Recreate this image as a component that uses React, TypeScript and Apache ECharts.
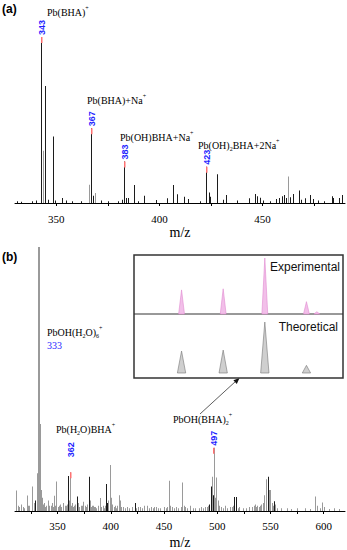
import React, { useEffect, useRef } from "react";
import * as echarts from "echarts";

// ---------- Panel (a) ----------
const peaksA: [number, number][] = [
  [331, 1], [333, 0.8], [338.5, 1], [340.6, 1.5], [343, 100], [344, 31.5], [345, 70.5], [346, 2],
  [348.5, 40], [349.5, 1.5], [352.8, 3], [355, 1.5], [358, 1], [362, 1], [366, 11], [367, 45],
  [368, 4.4], [369, 6], [372, 1.5], [375.5, 1], [380, 1], [382, 2], [383, 25], [384, 3], [385, 3],
  [388, 10.8], [390, 1], [393, 4.4], [398.5, 1.8], [404, 2.8], [407, 10.8], [409, 5.2], [412, 3.8],
  [414, 2.4], [420, 1], [423, 21.9], [424.2, 6.4], [425, 3.8], [428.2, 17.3], [431, 2], [432.7, 4.8],
  [438, 1.5], [443.7, 2.8], [446.6, 5.4], [447.6, 4], [449, 3.2], [450.5, 1.5], [454, 1], [457, 2.4],
  [458.3, 3], [459.5, 4], [460.5, 4.8], [461.6, 3], [462.7, 15.9], [463.5, 3.5], [464.8, 5.4],
  [467.8, 7.6], [469.1, 2], [470.7, 2.8], [473.1, 4.8], [474.7, 2.4], [477, 1.5], [480, 1],
  [483.7, 4], [484.2, 3], [487.2, 3], [489, 4.8],
];
const grayA = [344, 366, 369, 462.7];
const labeledA = [343, 367, 383, 423];
const labelGapA = [2, 2, 2, 2];
const ticksA = [350, 375, 400, 425, 450, 475];
const tickLabelsA = [350, 400, 450];

// ---------- Panel (b) ----------
const peaksB: [number, number][] = [
  [311, 7.8], [313, 2], [316, 2.5], [318, 1.5], [321.3, 5.9], [323, 2], [326.6, 9.3], [328, 3],
  [330.7, 14.3], [332, 30], [333, 100], [334, 33], [335, 8], [336, 5], [338, 3], [340, 2],
  [341.6, 4], [344, 2], [345.5, 3], [347.2, 5.8], [349.4, 11.2], [352, 2], [356, 3], [358, 2],
  [360.3, 13.3], [361, 4], [362, 14.7], [364, 3], [366, 2], [368.8, 5.5], [370, 3], [372, 2],
  [374.4, 3.5], [376, 2], [380, 13], [381, 4], [383, 2], [386, 1.5], [390, 4.9], [393, 2],
  [396.3, 10.2], [398, 4], [399.4, 17.4], [400.5, 5], [404, 2], [407.8, 6], [408.8, 4], [412, 1.5],
  [416, 1.5], [422.8, 3], [428, 1.5], [432, 2], [434, 2], [438, 1.5], [441, 1.5], [445, 1],
  [450, 1.5], [455, 11.5], [458, 1.5], [462, 1.5], [467.5, 10.8], [470, 1.5], [475, 2], [480, 1],
  [485, 1.5], [489, 1.5], [492, 2], [494.7, 9.3], [495.6, 13], [496.3, 6], [497, 24], [498, 5],
  [499.4, 12.7], [500.8, 4], [504, 1.5], [508, 2], [512, 1.5], [516.5, 5.3], [518, 5.3], [521, 1.5],
  [525, 1], [530, 1.5], [533, 1.5], [536, 2.5], [540, 1.5], [543, 3], [544.7, 6], [546.2, 12],
  [547.7, 13], [549, 8], [550, 8], [551.5, 3], [553.5, 3.7], [555, 2.5], [560, 1], [566, 1],
  [575, 1], [583, 1], [592.5, 5.5], [594, 2], [598.5, 3.2], [605, 0.8], [610, 1],
];
// small baseline peaks ("grass") of panel (b)
const minorPeaksB: [number, number][] = [
  [314, 1.5], [319, 1], [324, 2], [329, 4], [337, 2.5], [339, 1.5], [342.5, 2], [346, 1.5], [348, 2],
  [351, 1.5], [353, 2.5], [354, 1.5], [357, 2], [359, 2.5], [363, 2], [365, 1.5], [367, 2.5], [371, 1.5],
  [373, 2], [377, 1.5], [378, 2.5], [382, 1.5], [384, 2], [385, 1.5], [387, 1], [388, 2], [391, 1.5],
  [394, 1], [395, 2], [397, 3], [401.5, 2.5], [403, 1.5], [405, 1], [406, 2], [409.5, 2.5], [410, 1.5],
  [414, 1], [418, 1], [420, 1.5], [424, 1], [426, 1.5], [430, 1], [436, 1], [440, 1], [443, 1.5],
  [447, 1], [452, 1], [453, 1.5], [456, 2], [460, 1], [464, 1], [466, 1.5], [469, 2], [472, 1],
  [478, 1], [483, 1], [487, 1], [491, 1.5], [493, 2.5], [502, 2], [506, 1], [510, 1], [514, 1.5],
  [515, 2], [520, 1], [527, 1], [535, 2], [537, 1.5], [538, 2], [541, 2], [542, 2.5], [552.5, 2],
  [557, 1], [570, 0.8], [588, 0.8], [597, 1], [601, 1.5], [615, 0.8],
];
const darkB = [332, 360.3, 368.8, 380, 396.3, 422.8, 494.7, 496.3, 516.5, 518, 547.7, 553.5, 329, 397, 493];
const wideB = [333];
const labeledB = [362, 497];
const labelGapB = [15, 2];
const ticksB = [325, 350, 375, 400, 425, 450, 475, 500, 525, 550, 575, 600];
const tickLabelsB = [350, 400, 450, 500, 550, 600];

// ---------- Inset ----------
const insetTicks = [494.5, 495, 495.5, 496, 496.5, 497, 497.5, 498, 498.5];
const expMz = [495, 496, 497, 498, 498.25];
const expRel = [43, 45, 100, 22, 4];
const theoMz = [495, 496, 497, 498];
const theoRel = [43, 45, 100, 15];

const SERIF = "Liberation Serif";
const SANS = "Liberation Sans";
const BLUE = "#1e1eff";

const richStyles = {
  n: { fontSize: 10, fontFamily: SERIF, lineHeight: 14, color: "#111" },
  sup: { fontSize: 6, fontFamily: SERIF, lineHeight: 6, verticalAlign: "top", color: "#111" },
  sub: { fontSize: 6, fontFamily: SERIF, lineHeight: 6, verticalAlign: "bottom", color: "#111" },
};

function nameText(text: string, x: number, y: number) {
  return {
    type: "text",
    x,
    y,
    silent: true,
    style: { text, rich: richStyles, align: "left", verticalAlign: "middle", fontFamily: SERIF, fontSize: 10 },
  };
}

function spectrum(idx: number, peaks: [number, number][], darkFn: (m: number) => boolean, wide: number[], z: number) {
  return {
    type: "custom",
    xAxisIndex: idx,
    yAxisIndex: idx,
    silent: true,
    clip: false,
    z,
    encode: { x: 0, y: 1 },
    data: peaks.map(([m, v]) => [m, v, darkFn(m) ? 1 : 0, wide.includes(m) ? 2 : 1]),
    renderItem: (_p: any, api: any) => {
      const m = api.value(0);
      const v = api.value(1);
      const dark = api.value(2);
      const w = api.value(3);
      const top = api.coord([m, v]);
      const base = api.coord([m, 0]);
      return {
        type: "rect",
        shape: { x: Math.round(top[0] - w / 2), y: top[1], width: w, height: base[1] - top[1] },
        style: { fill: dark ? "#1c1c1c" : "#9a9a9a" },
      };
    },
  };
}

function markers(idx: number, peaks: [number, number][], labeled: number[], gaps: number[]) {
  return {
    type: "custom",
    xAxisIndex: idx,
    yAxisIndex: idx,
    silent: true,
    clip: false,
    z: 5,
    encode: { x: 0, y: 1 },
    data: labeled.map((m, i) => {
      const found = peaks.find((p) => p[0] === m);
      return [m, found ? found[1] : 0, gaps[i]];
    }),
    renderItem: (_p: any, api: any) => {
      const m = api.value(0);
      const v = api.value(1);
      const gap = api.value(2);
      const p = api.coord([m, v]);
      const px = Math.round(p[0] - 0.75);
      return {
        type: "group",
        children: [
          { type: "rect", shape: { x: px, y: p[1], width: 1.5, height: 6 }, style: { fill: "#ff7272" } },
          {
            type: "text",
            x: px + 0.75,
            y: p[1] - gap,
            rotation: Math.PI / 2,
            style: {
              text: String(m),
              fill: BLUE,
              fontSize: 9,
              fontWeight: "bold",
              fontFamily: SANS,
              align: "left",
              verticalAlign: "middle",
            },
          },
        ],
      };
    },
  };
}

function insetPeaks(idx: number, mz: number[], rel: number[], hw: number, fill: string, stroke: string) {
  return {
    type: "custom",
    xAxisIndex: idx,
    yAxisIndex: idx,
    silent: true,
    z: 4,
    encode: { x: 0, y: 1 },
    data: mz.map((m, i) => [m, rel[i]]),
    renderItem: (_p: any, api: any) => {
      const c = api.value(0);
      const h = api.value(1);
      const pts = [api.coord([c - hw, 0]), api.coord([c, h]), api.coord([c + hw, 0])];
      return { type: "polygon", shape: { points: pts }, style: { fill, stroke, lineWidth: 0.6 } };
    },
  };
}

const mainAxisBase = (gridIndex: number, min: number, max: number, ticks: number[], labels: number[], margin: number, nameGap: number) => ({
  type: "value",
  gridIndex,
  min,
  max,
  splitLine: { show: false },
  axisLine: { show: true, onZero: false, lineStyle: { color: "#000", width: 1 } },
  axisTick: { show: true, length: 3, customValues: ticks, lineStyle: { color: "#000", width: 1 } },
  axisLabel: { show: true, customValues: labels, color: "#000", fontFamily: SERIF, fontSize: 11, margin },
  name: "m/z",
  nameLocation: "middle",
  nameGap,
  nameTextStyle: { fontFamily: SERIF, fontSize: 14, color: "#000" },
});

const insetXAxis = (gridIndex: number) => ({
  type: "value",
  gridIndex,
  min: 494.17,
  max: 498.83,
  splitLine: { show: false },
  axisLine: { show: true, onZero: false, lineStyle: { color: "#555", width: 0.8 } },
  axisTick: { show: true, length: 2, customValues: insetTicks, lineStyle: { color: "#777", width: 0.6 } },
  axisLabel: { show: false },
});

const insetYAxis = (gridIndex: number) => ({
  type: "value",
  gridIndex,
  min: 0,
  max: 100,
  splitLine: { show: false },
  axisLine: { show: true, lineStyle: { color: "#999", width: 0.6 } },
  axisTick: { show: true, length: 2, customValues: [0, 20, 40, 60, 80, 100], lineStyle: { color: "#999", width: 0.5 } },
  axisLabel: { show: false },
});

export default function App() {
  const ref = useRef<HTMLDivElement>(null);
  useEffect(() => {
    if (!ref.current) return;
    const chart = echarts.init(ref.current, undefined, { renderer: "svg" });
    const darkA = (m: number) => !grayA.includes(m);
    const isDarkB = (m: number) => darkB.includes(m);
    chart.setOption({
      animation: false,
      backgroundColor: "#fff",
      grid: [
        { left: 15, right: 2, top: 37, bottom: 347 },
        { left: 15, right: 2, top: 247, bottom: 37 },
        { left: 147, right: 6, top: 258, bottom: 236 },
        { left: 147, right: 6, top: 322, bottom: 177 },
      ],
      xAxis: [
        mainAxisBase(0, 330, 490, ticksA, tickLabelsA, 10, 22),
        mainAxisBase(1, 310, 620, ticksB, tickLabelsB, 9, 24),
        insetXAxis(2),
        insetXAxis(3),
      ],
      yAxis: [
        { type: "value", gridIndex: 0, min: 0, max: 100, show: false },
        { type: "value", gridIndex: 1, min: 0, max: 100, show: false },
        insetYAxis(2),
        insetYAxis(3),
      ],
      graphic: [
        {
          type: "rect",
          z: 1,
          shape: { x: 134, y: 255, width: 209, height: 123 },
          style: { fill: "#fff", stroke: "#333", lineWidth: 1.5 },
        },
        { type: "line", z: 3, shape: { x1: 134, y1: 314, x2: 343, y2: 314 }, style: { stroke: "#333", lineWidth: 1 } },
        {
          type: "text",
          z: 6,
          x: 340,
          y: 267,
          style: { text: "Experimental", fontFamily: SANS, fontSize: 12, fill: "#111", align: "right", verticalAlign: "middle" },
        },
        {
          type: "text",
          z: 6,
          x: 338,
          y: 327,
          style: { text: "Theoretical", fontFamily: SANS, fontSize: 12, fill: "#111", align: "right", verticalAlign: "middle" },
        },
        { type: "line", shape: { x1: 200, y1: 414, x2: 236, y2: 381 }, style: { stroke: "#333", lineWidth: 0.8 } },
        {
          type: "polygon",
          shape: { points: [[239.5, 378], [236.8, 383.9], [233.4, 380.2]] },
          style: { fill: "#111" },
        },
        {
          type: "text",
          x: 2,
          y: 8.5,
          style: { text: "(a)", fontFamily: SANS, fontWeight: "bold", fontSize: 12, fill: "#000", align: "left", verticalAlign: "middle" },
        },
        {
          type: "text",
          x: 2,
          y: 257,
          style: { text: "(b)", fontFamily: SANS, fontWeight: "bold", fontSize: 12, fill: "#000", align: "left", verticalAlign: "middle" },
        },
        nameText("{n|Pb(BHA)}{sup|+}", 47, 12),
        nameText("{n|Pb(BHA)+Na}{sup|+}", 87, 100),
        nameText("{n|Pb(OH)BHA+Na}{sup|+}", 120, 137),
        nameText("{n|Pb(OH)}{sub|2}{n|BHA+2Na}{sup|+}", 198, 145),
        nameText("{n|PbOH(H}{sub|2}{n|O)}{sub|6}{sup|+}", 47, 332),
        nameText("{n|Pb(H}{sub|2}{n|O)BHA}{sup|+}", 56, 429),
        nameText("{n|PbOH(BHA)}{sub|2}{sup|+}", 173, 419),
        {
          type: "text",
          x: 47,
          y: 345,
          style: { text: "333", fontFamily: SERIF, fontSize: 10, fill: BLUE, align: "left", verticalAlign: "middle" },
        },
      ],
      series: [
        spectrum(0, peaksA, darkA, [], 2),
        markers(0, peaksA, labeledA, labelGapA),
        spectrum(1, minorPeaksB, isDarkB, [], 2),
        spectrum(1, peaksB, isDarkB, wideB, 3),
        markers(1, peaksB, labeledB, labelGapB),
        insetPeaks(2, expMz, expRel, 0.07, "#f2bfe9", "#e08ad0"),
        insetPeaks(3, theoMz, theoRel, 0.1, "#cfcfcf", "#777"),
      ],
    });
    return () => chart.dispose();
  }, []);
  return <div ref={ref} style={{ position: "fixed", left: 0, top: 0, width: 347, height: 550 }} />;
}
